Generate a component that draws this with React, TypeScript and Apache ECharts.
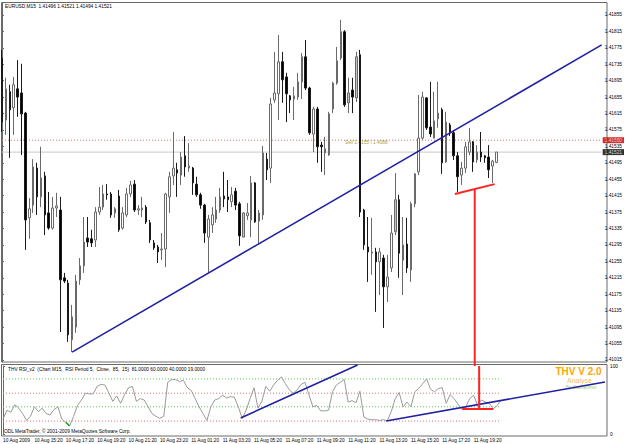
import React, { useEffect, useRef } from 'react';
import * as echarts from 'echarts';

// ---------- data ----------
const tickLabels = [
  '10 Aug 2009', '10 Aug 15:20', '10 Aug 17:20', '10 Aug 19:20', '10 Aug 21:20', '10 Aug 23:20',
  '11 Aug 01:20', '11 Aug 03:20', '11 Aug 05:20', '11 Aug 07:20', '11 Aug 09:20', '11 Aug 11:20',
  '11 Aug 13:20', '11 Aug 15:20', '11 Aug 17:20', '11 Aug 19:20',
];

const priceTicks = [
  1.41015, 1.41055, 1.41095, 1.41135, 1.41175, 1.41215, 1.41255, 1.41295, 1.41335, 1.41375, 1.41415,
  1.41455, 1.41495, 1.41535, 1.41575, 1.41615, 1.41655, 1.41695, 1.41735, 1.41775, 1.41815, 1.41855,
];
const PRICE_MIN = 1.4101;
const PRICE_MAX = 1.41884;

const opens = [
  1.41750, 1.41599, 1.41668, 1.41629, 1.41675, 1.41665, 1.41616, 1.41361, 1.41392, 1.41482,
  1.41412, 1.41463, 1.41373, 1.41336, 1.41385, 1.41380, 1.41215, 1.41202, 1.41064, 1.41095,
  1.41210, 1.41244, 1.41312, 1.41310, 1.41307, 1.41375, 1.41387, 1.41419, 1.41419, 1.41373,
  1.41414, 1.41336, 1.41368, 1.41419, 1.41443, 1.41380, 1.41380, 1.41387, 1.41349, 1.41300,
  1.41290, 1.41283, 1.41285, 1.41412, 1.41463, 1.41478, 1.41465, 1.41512, 1.41482, 1.41482,
  1.41443, 1.41417, 1.41392, 1.41314, 1.41344, 1.41358, 1.41380, 1.41414, 1.41412, 1.41400,
  1.41426, 1.41395, 1.41314, 1.41366, 1.41356, 1.41446, 1.41353, 1.41368, 1.41504, 1.41482,
  1.41648, 1.41663, 1.41741, 1.41704, 1.41658, 1.41650, 1.41655, 1.41692, 1.41753, 1.41677,
  1.41565, 1.41626, 1.41538, 1.41519, 1.41514, 1.41626, 1.41689, 1.41750, 1.41814, 1.41641,
  1.41672, 1.41653, 1.41758, 1.41380, 1.41290, 1.41275, 1.41278, 1.41254, 1.41263, 1.41193,
  1.41239, 1.41327, 1.41405, 1.41258, 1.41297, 1.41234, 1.41395, 1.41473, 1.41555, 1.41653,
  1.41582, 1.41555, 1.41602, 1.41624, 1.41497, 1.41587, 1.41568, 1.41512, 1.41465, 1.41482,
  1.41521, 1.41546, 1.41502, 1.41521, 1.41512, 1.41509, 1.41487, 1.41496,
];

const closes = [
  1.41594, 1.41675, 1.41624, 1.41685, 1.41655, 1.41614, 1.41356, 1.41383, 1.41485, 1.41412,
  1.41458, 1.41368, 1.41336, 1.41385, 1.41390, 1.41210, 1.41207, 1.41076, 1.41120, 1.41207,
  1.41244, 1.41302, 1.41302, 1.41300, 1.41375, 1.41387, 1.41419, 1.41417, 1.41368, 1.41383,
  1.41332, 1.41373, 1.41419, 1.41441, 1.41380, 1.41383, 1.41385, 1.41351, 1.41307, 1.41288,
  1.41278, 1.41285, 1.41419, 1.41461, 1.41482, 1.41470, 1.41509, 1.41485, 1.41487, 1.41446,
  1.41417, 1.41392, 1.41324, 1.41358, 1.41368, 1.41380, 1.41412, 1.41407, 1.41405, 1.41417,
  1.41392, 1.41317, 1.41373, 1.41373, 1.41446, 1.41351, 1.41373, 1.41519, 1.41478, 1.41638,
  1.41665, 1.41741, 1.41697, 1.41663, 1.41648, 1.41658, 1.41692, 1.41753, 1.41677, 1.41568,
  1.41626, 1.41534, 1.41534, 1.41529, 1.41614, 1.41689, 1.41743, 1.41814, 1.41636, 1.41665,
  1.41655, 1.41753, 1.41375, 1.41295, 1.41278, 1.41278, 1.41254, 1.41278, 1.41193, 1.41217,
  1.41324, 1.41405, 1.41275, 1.41295, 1.41239, 1.41395, 1.41468, 1.41555, 1.41655, 1.41580,
  1.41565, 1.41597, 1.41616, 1.41495, 1.41594, 1.41568, 1.41512, 1.41461, 1.41482, 1.41534,
  1.41546, 1.41497, 1.41521, 1.41509, 1.41507, 1.41478, 1.41499, 1.41521,
];

const lows = [
  1.41570, 1.41563, 1.41507, 1.41563, 1.41607, 1.41514, 1.41283, 1.41310, 1.41373, 1.41368,
  1.41387, 1.41319, 1.41332, 1.41332, 1.41363, 1.41083, 1.41202, 1.41059, 1.41034, 1.41081,
  1.41198, 1.41227, 1.41290, 1.41290, 1.41290, 1.41368, 1.41380, 1.41405, 1.41361, 1.41361,
  1.41327, 1.41332, 1.41363, 1.41412, 1.41375, 1.41368, 1.41363, 1.41346, 1.41300, 1.41283,
  1.41251, 1.41258, 1.41241, 1.41373, 1.41441, 1.41412, 1.41441, 1.41461, 1.41473, 1.41417,
  1.41412, 1.41383, 1.41300, 1.41227, 1.41324, 1.41349, 1.41373, 1.41387, 1.41375, 1.41387,
  1.41380, 1.41293, 1.41314, 1.41356, 1.41314, 1.41349, 1.41295, 1.41356, 1.41453, 1.41446,
  1.41641, 1.41599, 1.41641, 1.41594, 1.41616, 1.41599, 1.41648, 1.41650, 1.41672, 1.41563,
  1.41521, 1.41495, 1.41473, 1.41465, 1.41512, 1.41616, 1.41685, 1.41745, 1.41631, 1.41616,
  1.41616, 1.41643, 1.41363, 1.41283, 1.41205, 1.41222, 1.41132, 1.41173, 1.41093, 1.41156,
  1.41229, 1.41319, 1.41215, 1.41173, 1.41227, 1.41205, 1.41387, 1.41465, 1.41551, 1.41575,
  1.41558, 1.41555, 1.41580, 1.41468, 1.41495, 1.41560, 1.41502, 1.41424, 1.41441, 1.41470,
  1.41514, 1.41473, 1.41495, 1.41497, 1.41495, 1.41458, 1.41446, 1.41494,
];

const highs = [
  1.41770, 1.41702, 1.41685, 1.41704, 1.41745, 1.41736, 1.41619, 1.41409, 1.41504, 1.41495,
  1.41534, 1.41473, 1.41424, 1.41412, 1.41422, 1.41412, 1.41227, 1.41210, 1.41149, 1.41222,
  1.41263, 1.41363, 1.41363, 1.41332, 1.41387, 1.41436, 1.41441, 1.41443, 1.41424, 1.41387,
  1.41429, 1.41387, 1.41434, 1.41451, 1.41453, 1.41392, 1.41412, 1.41392, 1.41356, 1.41307,
  1.41295, 1.41324, 1.41422, 1.41473, 1.41570, 1.41495, 1.41521, 1.41560, 1.41543, 1.41485,
  1.41461, 1.41422, 1.41395, 1.41368, 1.41387, 1.41412, 1.41434, 1.41473, 1.41453, 1.41436,
  1.41434, 1.41400, 1.41375, 1.41397, 1.41463, 1.41448, 1.41380, 1.41536, 1.41519, 1.41653,
  1.41765, 1.41806, 1.41765, 1.41714, 1.41660, 1.41680, 1.41714, 1.41762, 1.41794, 1.41680,
  1.41631, 1.41631, 1.41546, 1.41558, 1.41619, 1.41692, 1.41777, 1.41843, 1.41818, 1.41702,
  1.41702, 1.41765, 1.41770, 1.41383, 1.41363, 1.41361, 1.41288, 1.41288, 1.41271, 1.41271,
  1.41368, 1.41470, 1.41417, 1.41363, 1.41361, 1.41400, 1.41470, 1.41660, 1.41668, 1.41655,
  1.41692, 1.41668, 1.41692, 1.41629, 1.41619, 1.41592, 1.41575, 1.41521, 1.41497, 1.41546,
  1.41580, 1.41548, 1.41538, 1.41570, 1.41514, 1.41538, 1.41502, 1.41521,
];

// bull candles whose body looks grey in the picture
const grayBodies = [10, 21, 62, 64, 76, 77, 87, 89, 91, 101, 103, 114];

const rsi = [
  22, 35, 32, 43, 38, 30, 20, 26, 40, 33,
  38, 30, 28, 36, 40, 22, 17, 12, 26, 42,
  50, 60, 59, 59, 70, 73, 72, 60, 48, 56,
  45, 58, 68, 70, 48, 52, 50, 40, 30, 26,
  23, 26, 76, 80, 80, 77, 79, 68, 64, 52,
  40, 30, 20, 40, 50, 52, 57, 53, 55, 54,
  40, 23, 35, 52, 68, 38, 48, 70, 63, 72,
  79, 84, 74, 65, 60, 65, 73, 76, 58, 40,
  42, 34, 34, 35, 62, 72, 76, 80, 47, 49,
  46, 63, 25, 22, 21, 21, 20, 21, 19.5, 33,
  52, 61, 40, 47, 40, 62, 67, 74, 81, 66,
  62, 67, 68, 45, 58, 52, 44, 36, 40, 52,
  57, 42, 50, 47, 45, 37, 42, 50,
];
const rsiLevels = [81, 60, 40, 19];
const RSI_MIN = 0;
const RSI_MAX = 100;
const OVERSOLD = 19;

const sellLevel = 1.4155;
const bidLevel = 1.41521;

// drawn objects: [bar index, value]
const mainTrend = [[18, 1.41034], [154, 1.41782]];
const redSupport = [[116.3, 1.41419], [126.5, 1.41443]];
const redDrop = [[121.4, 1.41431], [121.4, 1.41000]];
const rsiTrend1 = [[60.6, 23.5], [90.4, 101.5]];
const rsiTrend2 = [[97.7, 19.1], [153.5, 76.5]];
const rsiRedV = [[121.4, 100], [121.4, 36.8]];
const rsiRedH = [[117.1, 36.8], [125.0, 36.8]];

const N_SLOTS = 155;

// ---------- chart ----------
const FONT = 'Liberation Sans';
const small = { fontFamily: FONT, fontSize: 4.8, color: '#000' };

function seg(data: number[][], xi: number, yi: number, color: string, width: number, dashed = false) {
  return {
    type: 'line',
    xAxisIndex: xi,
    yAxisIndex: yi,
    data,
    symbol: 'none',
    silent: true,
    clip: false,
    lineStyle: { color, width, type: dashed ? [1, 2] : 'solid' },
  };
}

function tag(level: number, bg: string, fg: string) {
  return {
    type: 'scatter',
    xAxisIndex: 2,
    yAxisIndex: 0,
    data: [[N_SLOTS - 1, level]],
    symbolSize: 0,
    silent: true,
    clip: false,
    z: 5,
    label: {
      show: true,
      position: 'right',
      distance: 1,
      formatter: () => level.toFixed(5),
      backgroundColor: bg,
      color: fg,
      padding: [1, 2, 0, 2],
      fontFamily: FONT,
      fontSize: 4.8,
    },
  };
}

// level 0: custom ticks + labels, 1: custom labels only, 2: automatic
function buildOption(level: number) {
  const categories = Array.from({ length: N_SLOTS }, (_, i) =>
    i % 8 === 0 && i / 8 < tickLabels.length ? tickLabels[i / 8] : ''
  );
  const candleData = opens.map((o, i) => {
    const item: any = { value: [o, closes[i], lows[i], highs[i]] };
    if (grayBodies.includes(i)) item.itemStyle = { color: '#c4c4c4' };
    return item;
  });
  const rsiData = rsi.map((v, i) => [i, v]);
  const rsiLow = rsi.map((v, i) => (v < OVERSOLD ? [i, v] : [i, null]));
  const levelColor = (lv: number) => (lv === 81 || lv === 40 ? '#5fc85f' : '#e87070');

  const blue = '#2020a0';
  const red = '#ff2424';

  const series: any[] = [
    {
      type: 'candlestick',
      xAxisIndex: 0,
      yAxisIndex: 0,
      data: candleData,
      barWidth: 2,
      silent: true,
      itemStyle: {
        color: '#ffffff',
        color0: '#000000',
        borderColor: '#6a6a6a',
        borderColor0: '#1a1a1a',
        borderWidth: 1,
      },
    },
    { ...seg([[0, bidLevel], [N_SLOTS - 1, bidLevel]], 2, 0, '#c8c8c8', 1), z: 1 },
    { ...seg([[0, sellLevel], [N_SLOTS - 1, sellLevel]], 2, 0, '#e06a6a', 1, true), z: 1 },
    seg(mainTrend, 2, 0, blue, 1.6),
    seg(redSupport, 2, 0, red, 2),
    seg(redDrop, 2, 0, red, 2),
    tag(bidLevel, '#000000', '#ffffff'),
    tag(sellLevel, '#c00000', '#ffe0e0'),
    {
      type: 'line',
      xAxisIndex: 1,
      yAxisIndex: 1,
      data: rsiData,
      symbol: 'none',
      silent: true,
      lineStyle: { width: 1, color: '#9a9a9a' },
    },
    {
      type: 'line',
      xAxisIndex: 1,
      yAxisIndex: 1,
      data: rsiLow,
      symbol: 'none',
      silent: true,
      connectNulls: false,
      lineStyle: { width: 1.5, color: '#1fa81f' },
    },
  ];
  rsiLevels.forEach((lv) => {
    series.push({ ...seg([[0, lv], [rsi.length - 1, lv]], 3, 1, levelColor(lv), 1, true), z: 1 });
  });
  series.push(seg(rsiTrend1, 3, 1, blue, 1.6));
  series.push(seg(rsiTrend2, 3, 1, blue, 1.6));
  series.push(seg(rsiRedV, 3, 1, red, 2));
  series.push(seg(rsiRedH, 3, 1, red, 2));

  const txt = (x: number, y: number, text: string, fill: string, font: string, center = false) => ({
    type: 'text',
    silent: true,
    style: {
      x,
      y,
      text,
      fill,
      font,
      align: center ? 'center' : 'left',
      verticalAlign: 'middle',
    },
  });

  const priceLabel: any = {
    formatter: (v: number) => v.toFixed(5),
    margin: 3,
    ...small,
  };
  const priceTick: any = { show: false };
  if (level <= 1) priceLabel.customValues = priceTicks;
  if (level === 0) {
    Object.assign(priceTick, { show: true, length: 2, customValues: priceTicks, lineStyle: { color: '#6a6a6a' } });
  }

  return {
    animation: false,
    backgroundColor: '#ffffff',
    grid: [
      { left: 2, right: 18, top: 3, height: 359 },
      { left: 2, right: 18, top: 366, height: 68 },
    ],
    xAxis: [
      { type: 'category', gridIndex: 0, data: categories, boundaryGap: false, show: false },
      {
        type: 'category',
        gridIndex: 1,
        data: categories,
        boundaryGap: false,
        axisLine: { show: false },
        axisTick: { show: false },
        splitLine: { show: false },
        axisLabel: {
          interval: (i: number) => i % 8 === 0,
          align: 'left',
          margin: 4,
          ...small,
        },
      },
      { type: 'value', gridIndex: 0, min: 0, max: N_SLOTS - 1, show: false },
      { type: 'value', gridIndex: 1, min: 0, max: N_SLOTS - 1, show: false },
    ],
    yAxis: [
      {
        type: 'value',
        gridIndex: 0,
        position: 'right',
        min: PRICE_MIN,
        max: PRICE_MAX,
        axisLine: { show: true, lineStyle: { color: '#6a6a6a', width: 1 } },
        axisTick: priceTick,
        axisLabel: priceLabel,
        splitLine: { show: false },
      },
      {
        type: 'value',
        gridIndex: 1,
        position: 'right',
        min: RSI_MIN,
        max: RSI_MAX,
        interval: RSI_MAX - RSI_MIN,
        axisLine: { show: true, lineStyle: { color: '#6a6a6a', width: 1 } },
        axisTick: { show: true, length: 2, lineStyle: { color: '#6a6a6a' } },
        axisLabel: {
          formatter: (v: number) => String(v),
          margin: 3,
          showMinLabel: true,
          showMaxLabel: true,
          hideOverlap: false,
          ...small,
        },
        splitLine: { show: false },
      },
    ],
    series,
    graphic: [
      {
        type: 'rect',
        silent: true,
        shape: { x: 1.5, y: 2.5, width: 605.5, height: 359.5 },
        style: { fill: 'rgba(0,0,0,0)', stroke: '#6a6a6a', lineWidth: 1 },
      },
      {
        type: 'rect',
        silent: true,
        shape: { x: 1.5, y: 364.5, width: 605.5, height: 71.5 },
        style: { fill: 'rgba(0,0,0,0)', stroke: '#6a6a6a', lineWidth: 1 },
      },
      txt(5, 6, 'EURUSD,M15  1.41496 1.41521 1.41494 1.41521', '#000', `4.8px "${FONT}"`),
      txt(345, 142, 'Sell 1.4155 \\ 1.4088', '#a8a040', `4.8px "${FONT}"`),
      txt(
        8,
        369,
        'THV RSI_v2  (Chart M15,  RSI Period 5,  Close,  85,  15)  81.0000 60.0000 40.0000 19.0000',
        '#000',
        `4.8px "${FONT}"`
      ),
      txt(4, 431, 'ODL MetaTrader, © 2001-2009 MetaQuotes Software Corp.', '#000', `4.8px "${FONT}"`),
      txt(578.5, 371, 'THV V 2.0', '#ffa500', `bold 10px "${FONT}"`, true),
      txt(579.5, 380, 'Analyse', '#f5c060', `7px "${FONT}"`, true),
      txt(581, 387.5, 'By Cobraforex', '#98d088', `4.8px "${FONT}"`, true),
    ],
  };
}

export default function App() {
  const ref = useRef<HTMLDivElement>(null);
  useEffect(() => {
    document.body.style.margin = '0';
    let chart: any = null;
    for (const level of [0, 1, 2]) {
      chart = echarts.init(ref.current as HTMLDivElement, undefined, {
        renderer: 'svg',
        width: 625,
        height: 444,
      });
      try {
        chart.setOption(buildOption(level) as any);
        break;
      } catch (e) {
        console.error(e);
        chart.dispose();
        chart = null;
      }
    }
    return () => {
      if (chart) chart.dispose();
    };
  }, []);
  return (
    <div
      ref={ref}
      style={{ position: 'absolute', left: 0, top: 0, width: 625, height: 444, background: '#fff' }}
    />
  );
}
